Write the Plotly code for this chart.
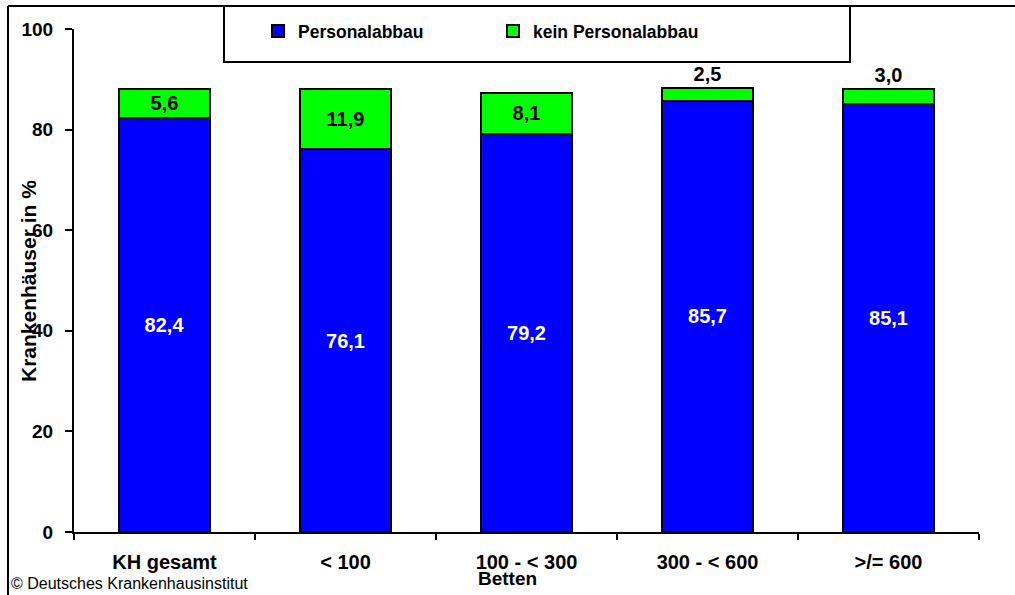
import plotly.graph_objects as go

categories = ["KH gesamt", "< 100", "100 - < 300", "300 - < 600", ">/= 600"]
personalabbau = [82.4, 76.1, 79.2, 85.7, 85.1]
kein_personalabbau = [5.6, 11.9, 8.1, 2.5, 3.0]
green_text_pos = ["inside", "inside", "inside", "outside", "outside"]
y_ticks = [0, 20, 40, 60, 80, 100]

FONT = "Liberation Sans, Arial, sans-serif"
W, H = 1015, 595
L, R, T, B = 74, 36, 29, 63
PW, PH = W - L - R, H - T - B


def px(x):
    return (x - L) / PW


def py(y):
    return (H - B - y) / PH


fig = go.Figure()
fig.add_trace(go.Bar(
    x=categories, y=personalabbau, name="Personalabbau",
    marker=dict(color="#0000ff", line=dict(color="black", width=2)),
    texttemplate="%{y:.1f}", textposition="inside", insidetextanchor="middle",
    textangle=0, constraintext="none",
    textfont=dict(family=FONT, size=20, color="white", weight="bold"),
))
fig.add_trace(go.Bar(
    x=categories, y=kein_personalabbau, name="kein Personalabbau",
    marker=dict(color="#00ff00", line=dict(color="black", width=2)),
    texttemplate="%{y:.1f}", textposition=green_text_pos, insidetextanchor="middle",
    textangle=0, constraintext="none", cliponaxis=False,
    textfont=dict(family=FONT, size=20, color="black", weight="bold"),
))

fig.update_layout(
    width=W, height=H, barmode="stack", bargap=0.5,
    separators=",.",
    margin=dict(l=L, r=R, t=T, b=B, autoexpand=False),
    paper_bgcolor="white", plot_bgcolor="white",
    font=dict(family=FONT, size=19, color="black", weight="bold"),
    showlegend=True,
    legend=dict(
        orientation="h", x=px(258), xanchor="left", y=py(31), yanchor="middle",
        entrywidth=190, entrywidthmode="pixels", bgcolor="rgba(0,0,0,0)",
        borderwidth=0, font=dict(family=FONT, size=17.5, color="black", weight="bold"),
        traceorder="normal",
    ),
    xaxis=dict(
        showline=True, linecolor="black", linewidth=2, ticks="outside",
        tickson="boundaries", ticklen=6, tickwidth=2, tickcolor="black",
        showgrid=False, ticklabelstandoff=11,
        tickfont=dict(family=FONT, size=20, color="black", weight="bold"),
    ),
    yaxis=dict(
        range=[0, 100], tickvals=y_ticks, showline=True, linecolor="black",
        linewidth=2, ticks="outside", ticklen=7, tickwidth=2, tickcolor="black",
        showgrid=False, zeroline=False, ticklabelstandoff=8,
        tickfont=dict(family=FONT, size=19, color="black", weight="bold"),
    ),
    shapes=[
        dict(type="line", xref="paper", yref="paper", x0=px(8), x1=px(1016),
             y0=py(6), y1=py(6), line=dict(color="black", width=2)),
        dict(type="line", xref="paper", yref="paper", x0=px(8), x1=px(8),
             y0=py(6), y1=py(600), line=dict(color="black", width=2)),
        dict(type="rect", xref="paper", yref="paper", x0=px(224), x1=px(850),
             y0=py(6), y1=py(62), line=dict(color="black", width=2),
             fillcolor="rgba(0,0,0,0)"),
    ],
    annotations=[
        dict(text="Krankenhäuser in %", xref="paper", yref="paper",
             x=px(28), y=py(281), xanchor="center", yanchor="middle",
             textangle=-90, showarrow=False,
             font=dict(family=FONT, size=21, color="black", weight="bold")),
        dict(text="Betten", xref="paper", yref="paper",
             x=px(507), y=py(578), xanchor="center", yanchor="middle",
             showarrow=False,
             font=dict(family=FONT, size=19, color="black", weight="bold")),
        dict(text="© Deutsches Krankenhausinstitut", xref="paper", yref="paper",
             x=px(9), y=py(583), xanchor="left", yanchor="middle",
             showarrow=False,
             font=dict(family=FONT, size=16, color="black", weight="normal")),
    ],
)

fig.write_html(
    "out.html",
    config={"displayModeBar": False},
    post_script="document.body.style.margin='0';document.body.style.overflow='hidden';",
)
